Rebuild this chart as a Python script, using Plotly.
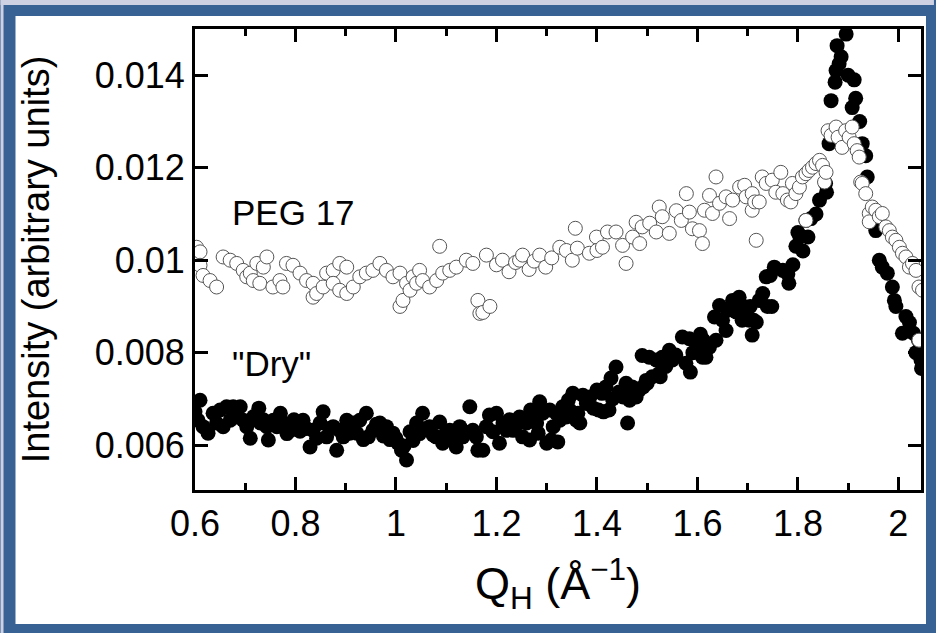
import plotly.graph_objects as go

# ---------------- data ----------------
dry_q = [0.600, 0.606, 0.610, 0.616, 0.626, 0.636, 0.643, 0.650, 0.656, 0.663,
         0.670, 0.676, 0.683, 0.690, 0.696, 0.703, 0.710, 0.717, 0.727, 0.730,
         0.736, 0.743, 0.746, 0.756, 0.763, 0.770, 0.776, 0.783, 0.790, 0.797,
         0.803, 0.809, 0.815, 0.822, 0.829, 0.835, 0.842, 0.849, 0.855, 0.862,
         0.868, 0.875, 0.882, 0.888, 0.895, 0.902, 0.908, 0.915, 0.922, 0.928,
         0.935, 0.941, 0.945, 0.954, 0.961, 0.968, 0.975, 0.981, 0.988, 0.994,
         1.000, 1.004, 1.011, 1.016, 1.021, 1.028, 1.034, 1.041, 1.047, 1.053,
         1.060, 1.067, 1.074, 1.080, 1.087, 1.093, 1.100, 1.107, 1.113, 1.120,
         1.127, 1.133, 1.140, 1.147, 1.153, 1.160, 1.163, 1.173, 1.180, 1.186,
         1.193, 1.200, 1.206, 1.213, 1.220, 1.226, 1.233, 1.240, 1.246, 1.252,
         1.260, 1.266, 1.268, 1.272, 1.280, 1.283, 1.286, 1.292, 1.300, 1.306,
         1.309, 1.313, 1.319, 1.322, 1.326, 1.329, 1.332, 1.339, 1.343, 1.346,
         1.352, 1.359, 1.362, 1.366, 1.372, 1.379, 1.386, 1.393, 1.400, 1.403,
         1.410, 1.413, 1.418, 1.424, 1.428, 1.431, 1.438, 1.444, 1.452, 1.458,
         1.461, 1.465, 1.470, 1.478, 1.484, 1.490, 1.492, 1.498, 1.500, 1.504,
         1.510, 1.518, 1.524, 1.526, 1.530, 1.537, 1.544, 1.550, 1.557, 1.570,
         1.577, 1.584, 1.586, 1.591, 1.598, 1.604, 1.606, 1.610, 1.612, 1.617,
         1.624, 1.634, 1.637, 1.644, 1.650, 1.657, 1.660, 1.670, 1.677, 1.683,
         1.689, 1.692, 1.697, 1.703, 1.705, 1.709, 1.712, 1.717, 1.723, 1.730,
         1.737, 1.739, 1.745, 1.748, 1.753, 1.770, 1.780, 1.782, 1.790, 1.796,
         1.800, 1.804, 1.810, 1.816, 1.820, 1.826, 1.836, 1.843, 1.855, 1.857,
         1.862, 1.866, 1.874, 1.876, 1.878, 1.882, 1.886, 1.896, 1.900, 1.908,
         1.912, 1.915, 1.923, 1.928, 1.935, 1.938, 1.948, 1.955, 1.962, 1.968,
         1.978, 1.988, 1.992, 1.995, 2.008, 2.015, 2.022, 2.030, 2.035, 2.040,
         2.045, 2.046]
dry_i = [0.00672, 0.00654, 0.00697, 0.00640, 0.00626, 0.00669, 0.00648, 0.00676, 0.00640, 0.00683,
         0.00654, 0.00683, 0.00661, 0.00683, 0.00654, 0.00640, 0.00615, 0.00662, 0.00680, 0.00648,
         0.00655, 0.00640, 0.00611, 0.00654, 0.00640, 0.00669, 0.00648, 0.00625, 0.00632, 0.00655,
         0.00648, 0.00630, 0.00654, 0.00636, 0.00596, 0.00632, 0.00615, 0.00648, 0.00672, 0.00618,
         0.00636, 0.00640, 0.00589, 0.00632, 0.00618, 0.00654, 0.00626, 0.00648, 0.00626, 0.00654,
         0.00612, 0.00669, 0.00618, 0.00632, 0.00645, 0.00648, 0.00620, 0.00640, 0.00612, 0.00626,
         0.00615, 0.00604, 0.00589, 0.00598, 0.00568, 0.00629, 0.00610, 0.00648, 0.00625, 0.00669,
         0.00635, 0.00640, 0.00622, 0.00618, 0.00650, 0.00604, 0.00628, 0.00632, 0.00612, 0.00596,
         0.00640, 0.00618, 0.00628, 0.00683, 0.00632, 0.00618, 0.00589, 0.00589, 0.00640, 0.00665,
         0.00629, 0.00669, 0.00604, 0.00648, 0.00632, 0.00655, 0.00632, 0.00645, 0.00661, 0.00618,
         0.00648, 0.00611, 0.00676, 0.00661, 0.00648, 0.00626, 0.00694, 0.00669, 0.00604, 0.00676,
         0.00611, 0.00640, 0.00669, 0.00607, 0.00654, 0.00669, 0.00683, 0.00661, 0.00697, 0.00676,
         0.00712, 0.00654, 0.00669, 0.00648, 0.00708, 0.00690, 0.00704, 0.00680, 0.00719, 0.00676,
         0.00712, 0.00672, 0.00726, 0.00676, 0.00745, 0.00700, 0.00769, 0.00715, 0.00704, 0.00734,
         0.00648, 0.00697, 0.00726, 0.00704, 0.00719, 0.00794, 0.00726, 0.00740, 0.00734, 0.00790,
         0.00748, 0.00784, 0.00755, 0.00748, 0.00790, 0.00770, 0.00805, 0.00784, 0.00795, 0.00834,
         0.00777, 0.00830, 0.00758, 0.00800, 0.00820, 0.00805, 0.00840, 0.00790, 0.00827, 0.00790,
         0.00812, 0.00877, 0.00827, 0.00902, 0.00870, 0.00848, 0.00892, 0.00913, 0.00888, 0.00920,
         0.00870, 0.00900, 0.00885, 0.00870, 0.00900, 0.00838, 0.00870, 0.00866, 0.00913, 0.00928,
         0.00964, 0.00900, 0.00967, 0.00900, 0.00985, 0.00978, 0.00970, 0.00950, 0.00990, 0.01030,
         0.01060, 0.01050, 0.01020, 0.01086, 0.01050, 0.01090, 0.01100, 0.01130, 0.01166, 0.01147,
         0.01252, 0.01345, 0.01385, 0.01410, 0.01464, 0.01425, 0.01440, 0.01489, 0.01400, 0.01330,
         0.01390, 0.01350, 0.01300, 0.01252, 0.01226, 0.01180, 0.01090, 0.01064, 0.01000, 0.00985,
         0.00972, 0.00942, 0.00913, 0.00900, 0.00842, 0.00878, 0.00865, 0.00842, 0.00800, 0.00827,
         0.00784, 0.00766]

peg_q = [0.603, 0.610, 0.610, 0.616, 0.630, 0.643, 0.656, 0.670, 0.683, 0.696,
         0.703, 0.710, 0.716, 0.723, 0.729, 0.736, 0.743, 0.755, 0.769, 0.775,
         0.782, 0.795, 0.809, 0.822, 0.835, 0.835, 0.842, 0.855, 0.862, 0.875,
         0.875, 0.888, 0.888, 0.902, 0.902, 0.915, 0.928, 0.941, 0.954, 0.968,
         0.981, 0.994, 1.008, 1.008, 1.014, 1.021, 1.028, 1.034, 1.041, 1.047,
         1.053, 1.067, 1.081, 1.087, 1.093, 1.107, 1.120, 1.140, 1.153, 1.163,
         1.167, 1.173, 1.180, 1.187, 1.200, 1.212, 1.225, 1.238, 1.246, 1.252,
         1.265, 1.275, 1.286, 1.298, 1.310, 1.326, 1.339, 1.351, 1.357, 1.361,
         1.385, 1.399, 1.400, 1.411, 1.421, 1.438, 1.451, 1.458, 1.471, 1.478,
         1.485, 1.490, 1.505, 1.518, 1.524, 1.530, 1.544, 1.558, 1.568, 1.578,
         1.584, 1.590, 1.604, 1.610, 1.614, 1.624, 1.630, 1.637, 1.644, 1.657,
         1.664, 1.670, 1.684, 1.694, 1.697, 1.709, 1.709, 1.714, 1.717, 1.723,
         1.729, 1.737, 1.749, 1.756, 1.766, 1.770, 1.779, 1.786, 1.789, 1.796,
         1.803, 1.809, 1.816, 1.816, 1.822, 1.829, 1.836, 1.843, 1.849, 1.853,
         1.856, 1.860, 1.866, 1.876, 1.880, 1.888, 1.895, 1.902, 1.908, 1.912,
         1.918, 1.922, 1.925, 1.928, 1.935, 1.942, 1.942, 1.948, 1.955, 1.962,
         1.968, 1.975, 1.982, 1.988, 1.995, 2.002, 2.008, 2.015, 2.022, 2.028,
         2.035, 2.041, 2.041, 2.048]
peg_i = [0.01028, 0.01018, 0.00989, 0.00967, 0.00956, 0.00942, 0.01007, 0.01000, 0.00993, 0.00978,
         0.00964, 0.00972, 0.00956, 0.00993, 0.00950, 0.00985, 0.01007, 0.00942, 0.00956, 0.00942,
         0.00993, 0.00989, 0.00972, 0.00956, 0.00950, 0.00920, 0.00928, 0.00942, 0.00972, 0.00978,
         0.00950, 0.00993, 0.00935, 0.00985, 0.00928, 0.00942, 0.00964, 0.00972, 0.00978, 0.00993,
         0.00978, 0.00964, 0.00972, 0.00900, 0.00913, 0.00950, 0.00935, 0.00964, 0.00950, 0.00978,
         0.00956, 0.00942, 0.00956, 0.01030, 0.00972, 0.00978, 0.00985, 0.01000, 0.00993, 0.00913,
         0.00885, 0.00887, 0.01011, 0.00900, 0.00990, 0.01000, 0.00975, 0.00995, 0.01000, 0.01011,
         0.00980, 0.00998, 0.01011, 0.00985, 0.01005, 0.01028, 0.01021, 0.01000, 0.01069, 0.01026,
         0.01015, 0.01050, 0.01021, 0.01028, 0.01061, 0.01061, 0.01032, 0.00993, 0.01050, 0.01082,
         0.01036, 0.01072, 0.01080, 0.01061, 0.01115, 0.01094, 0.01058, 0.01107, 0.01086, 0.01144,
         0.01104, 0.01068, 0.01064, 0.01036, 0.01108, 0.01140, 0.01101, 0.01180, 0.01123, 0.01137,
         0.01090, 0.01130, 0.01158, 0.01162, 0.01137, 0.01144, 0.01108, 0.01126, 0.01043, 0.01126,
         0.01180, 0.01166, 0.01173, 0.01147, 0.01190, 0.01144, 0.01130, 0.01126, 0.01166, 0.01144,
         0.01158, 0.01180, 0.01187, 0.01086, 0.01194, 0.01201, 0.01209, 0.01216, 0.01205, 0.01169,
         0.01190, 0.01280, 0.01270, 0.01288, 0.01266, 0.01244, 0.01280, 0.01266, 0.01288, 0.01252,
         0.01237, 0.01223, 0.01169, 0.01166, 0.01144, 0.01101, 0.01083, 0.01115, 0.01108, 0.01094,
         0.01101, 0.01072, 0.01064, 0.01050, 0.01043, 0.01028, 0.01015, 0.01007, 0.00985, 0.00993,
         0.00978, 0.00942, 0.00827, 0.00935]

x_ticks = [0.6, 0.8, 1.0, 1.2, 1.4, 1.6, 1.8, 2.0]
x_tick_text = ["0.6", "0.8", "1", "1.2", "1.4", "1.6", "1.8", "2"]
x_minor = [0.7, 0.9, 1.1, 1.3, 1.5, 1.7, 1.9]
y_ticks = [0.006, 0.008, 0.010, 0.012, 0.014]
y_tick_text = ["0.006", "0.008", "0.01", "0.012", "0.014"]

# ---------------- figure ----------------
W, H = 936, 633
L, R, T, B = 195, 13, 29, 143
PW, PH = W - L - R, H - T - B


def px_x(p):
    return (p - L) / PW


def px_y(p):
    return (H - B - p) / PH


FONT = "Liberation Sans, Arial, Helvetica, sans-serif"
BLUE = "#386294"

fig = go.Figure()
fig.add_trace(go.Scatter(
    x=dry_q, y=dry_i, mode="markers", name='"Dry"',
    marker=dict(symbol="circle", size=15, color="black", line=dict(width=0)),
))
fig.add_trace(go.Scatter(
    x=peg_q, y=peg_i, mode="markers", name="PEG 17",
    marker=dict(symbol="circle", size=14, color="white", line=dict(width=1, color="#555555")),
))

shapes = [
    dict(type="rect", xref="paper", yref="paper", layer="below",
         x0=px_x(0), x1=px_x(W), y0=px_y(5), y1=px_y(0),
         fillcolor="#cdd1e2", line=dict(width=0)),
    dict(type="rect", xref="paper", yref="paper", layer="below",
         x0=px_x(0), x1=px_x(3), y0=px_y(H), y1=px_y(0),
         fillcolor="#cdd1e2", line=dict(width=0)),
    dict(type="rect", xref="paper", yref="paper", layer="below",
         x0=px_x(15), x1=px_x(928), y0=px_y(624), y1=px_y(16),
         fillcolor="white", line=dict(width=0)),
]

fig.update_layout(
    width=W, height=H,
    margin=dict(l=L, r=R, t=T, b=B, pad=0),
    paper_bgcolor=BLUE, plot_bgcolor="white",
    showlegend=False,
    font=dict(family=FONT, size=36, color="black"),
    shapes=shapes,
    annotations=[
        dict(x=0.670, y=0.01103, xref="x", yref="y", text="PEG 17", showarrow=False,
             xanchor="left", yanchor="middle", font=dict(size=35, family=FONT)),
        dict(x=0.670, y=0.00777, xref="x", yref="y", text='"Dry"', showarrow=False,
             xanchor="left", yanchor="middle", font=dict(size=35, family=FONT)),
    ],
)

fig.update_xaxes(
    range=[0.6, 2.045], tickvals=x_ticks, ticktext=x_tick_text,
    ticks="inside", ticklen=13, tickwidth=3, tickcolor="black",
    showline=True, linewidth=3, linecolor="black", mirror="ticks",
    showgrid=False, zeroline=False,
    minor=dict(tickvals=x_minor, ticks="inside", ticklen=7, tickwidth=3, tickcolor="black", showgrid=False),
    tickfont=dict(size=36, family=FONT),
    title=dict(text="Q<sub>H</sub> (Å<sup>−1</sup>)", font=dict(size=45, family=FONT), standoff=25),
)
fig.update_yaxes(
    range=[0.00503, 0.0150], tickvals=y_ticks, ticktext=y_tick_text,
    ticks="inside", ticklen=13, tickwidth=3, tickcolor="black",
    showline=True, linewidth=3, linecolor="black", mirror="ticks",
    showgrid=False, zeroline=False,
    tickfont=dict(size=36, family=FONT),
    title=dict(text="Intensity (arbitrary units)", font=dict(size=38, family=FONT), standoff=34),
)

fig.write_html(
    "out.html",
    config={"displayModeBar": False},
    post_script="document.body.style.margin='0';document.body.style.overflow='hidden';"
                "document.documentElement.style.overflow='hidden';",
)
